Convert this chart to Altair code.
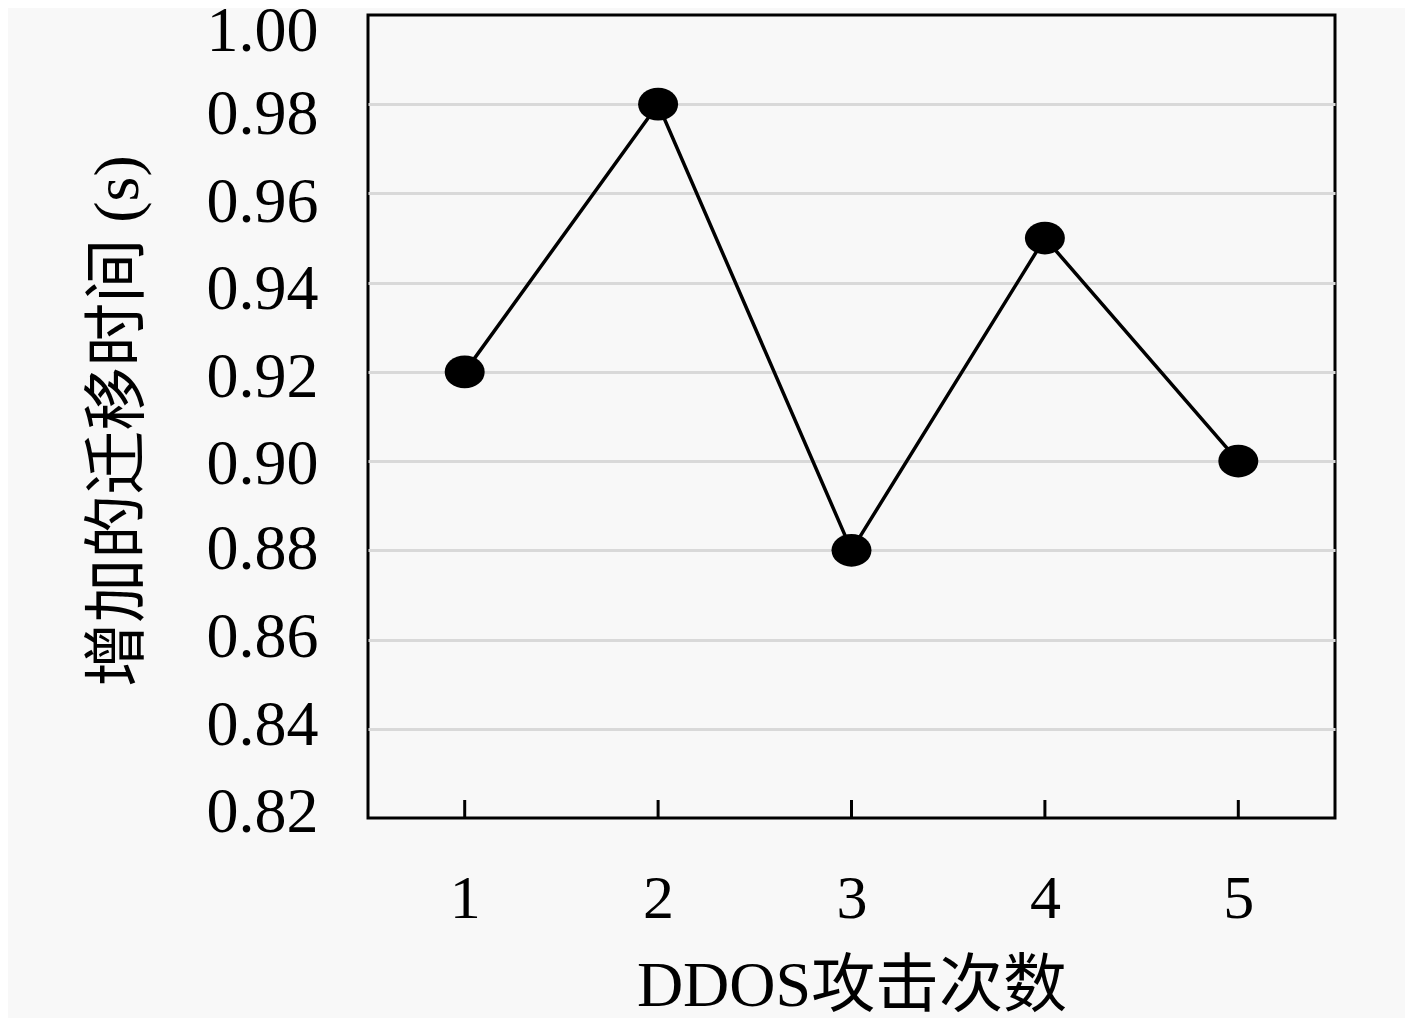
import altair as alt
import pandas as pd

attacks = [1, 2, 3, 4, 5]
added_time = [0.92, 0.98, 0.88, 0.95, 0.90]
y_ticks = [0.82, 0.84, 0.86, 0.88, 0.90, 0.92, 0.94, 0.96, 0.98, 1.00]

df = pd.DataFrame({"attack": attacks, "time": added_time})

W, H = 967, 803
SERIF = "Liberation Serif, DejaVu Serif, Noto Sans CJK SC"

x_scale = alt.Scale(domain=[0.5, 5.5], nice=False, zero=False)
y_scale = alt.Scale(domain=[0.82, 1.0], nice=False, zero=False)

# the reference's tick labels sit a few px off their gridlines (pixel shifts per label)
label_shift = [-6, -3, -2, -1, 3, 6, 7, 9, 10, 16]
label_offsets = {
    "condition": [
        {"test": f"abs(datum.value - {v}) < 0.001", "value": s}
        for v, s in zip(y_ticks, label_shift)
    ],
    "value": 0,
}

x_axis = alt.Axis(
    values=attacks, format="d", grid=False, ticks=False, domain=False,
    labelFontSize=62, labelFont=SERIF, labelColor="black", labelPadding=50,
    title="DDOS攻击次数", titleFont=SERIF, titleFontSize=64, titleFontWeight="normal",
    titleColor="black", titleY=168, titleBaseline="middle",
)
y_axis = alt.Axis(
    values=y_ticks, format=".2f", ticks=False, domain=False,
    grid=True, gridWidth=3,
    gridColor={"condition": {"test": "datum.value < 0.821 || datum.value > 0.999",
                             "value": "rgba(0,0,0,0)"}, "value": "#d9d9d9"},
    labelFontSize=64, labelFont=SERIF, labelColor="black", labelPadding=50,
    labelOffset=label_offsets,
    title="增加的迁移时间 (s)", titleFont=SERIF, titleFontSize=64, titleFontWeight="normal",
    titleColor="black", titleAngle=270, titleX=-250, titleY=H / 2 + 4,
    titleAlign="center", titleBaseline="middle",
)

base = alt.Chart(df)

line = base.mark_line(color="black", strokeWidth=3.5).encode(
    x=alt.X("attack:Q", scale=x_scale, axis=x_axis),
    y=alt.Y("time:Q", scale=y_scale, axis=y_axis),
)

ellipse = "M-1,0 A1,0.82 0 1,1 1,0 A1,0.82 0 1,1 -1,0 Z"
points = base.mark_point(shape=ellipse, filled=True, color="black", size=1600, opacity=1).encode(
    x=alt.X("attack:Q", scale=x_scale),
    y=alt.Y("time:Q", scale=y_scale),
)

ticks = base.mark_rule(color="black", strokeWidth=3).encode(
    x=alt.X("attack:Q", scale=x_scale),
    y=alt.value(H),
    y2=alt.value(H - 18),
)

chart = alt.layer(line, ticks, points).properties(
    width=W, height=H,
    background="#f8f8f8",
    padding={"left": 360, "top": 7, "right": 70, "bottom": 200},
    autosize=alt.AutoSizeParams(type="none"),
).configure_view(stroke="black", strokeWidth=3, fill=None)

chart.save("out.html", embed_options={"renderer": "svg", "actions": False})
